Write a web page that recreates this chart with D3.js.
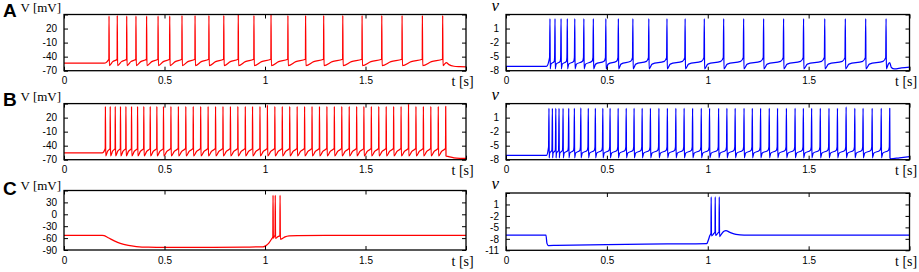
<!DOCTYPE html>
<html>
<head>
<meta charset="utf-8">
<script src="https://cdn.jsdelivr.net/npm/d3@7"></script>
<style>
  body { margin: 0; background: #fff; }
  svg { display: block; }
  .axis text { font-family: "Liberation Sans", Arial, sans-serif; font-size: 10px; fill: #000; }
  .axis line { stroke: #000; stroke-width: 1; }
  .serif { font-family: "Liberation Serif", "Times New Roman", serif; fill: #000; }
</style>
</head>
<body>
<svg width="919" height="272"></svg>
<script>
/* ---- data ---- */
const timeTicks = [0, 0.5, 1, 1.5, 2];
const timeTickLabels = ['0', '0.5', '1', '1.5', ''];

const vmTicksAB = [-70, -40, -10, 20, 50];
const vmTicksC = [-90, -60, -30, 0, 30, 60];
const vTicksAB = [-8, -5, -2, 1, 4];
const vTicksC = [-11, -8, -5, -2, 1, 4];

// A, V [mV]
const spikesA_V = [0.224, 0.265, 0.312, 0.358, 0.411, 0.468, 0.526, 0.587, 0.652, 0.721, 0.795, 0.867,
  0.945, 1.030, 1.114, 1.202, 1.292, 1.387, 1.483, 1.581, 1.682, 1.783, 1.884];
const peaksA_V = [47, 48, 47, 47, 47, 47, 47, 48, 48, 48, 48, 51, 48, 52, 48, 48, 48, 48, 48, 48, 48, 48, 48];
const tailA_V = [[1.893, -56], [1.902, -53], [1.915, -57], [1.94, -60.5], [1.97, -61.5], [2, -62]];

// A, v
const spikesA_v = [0.218, 0.243, 0.273, 0.304, 0.341, 0.386, 0.433, 0.495, 0.557, 0.629, 0.708, 0.798,
  0.888, 0.983, 1.079, 1.178, 1.277, 1.376, 1.475, 1.580, 1.682, 1.783, 1.884];
const peaksA_v = [3.1, 3.1, 3.1, 3.1, 3.1, 3.1, 3.1, 3.1, 3.1, 3.1, 3.1, 3.1, 3.1, 3.1, 3.1, 3.1, 3.1, 3.1,
  3.1, 3.1, 3.1, 3.1, 3.1];
const tailA_v = [[1.895, -6.6], [1.902, -6.3], [1.91, -7.3], [1.925, -7.6], [1.96, -7.4], [2, -7.25]];

// B, V [mV]
const spikesB_V = [0.206, 0.230, 0.255, 0.281, 0.308, 0.336, 0.366, 0.397, 0.429, 0.462,
  0.495, 0.532, 0.569, 0.606, 0.643, 0.680, 0.717, 0.754, 0.791, 0.828, 0.865, 0.902, 0.938, 0.975,
  1.012, 1.049, 1.086, 1.123, 1.160, 1.197, 1.234, 1.271, 1.308, 1.345, 1.382, 1.419, 1.456, 1.492,
  1.529, 1.566, 1.603, 1.640, 1.677, 1.714, 1.751, 1.788, 1.825, 1.862, 1.899];
const peaksB_V = [44, 44, 44, 44, 44, 44, 44, 44, 44, 44, 44, 44, 44, 44, 44, 44, 44, 44, 44, 44, 44, 44,
  44, 44, 47, 44, 44, 44, 44, 44, 44, 44, 44, 44, 44, 44, 44, 44, 44, 44, 44, 44, 44, 50, 44, 44, 44, 44, 44];
const tailB_V = [[1.91, -63], [1.94, -66], [1.97, -67], [2, -67.2]];

// B, v
const spikesB_v = [0.213, 0.230, 0.247, 0.263, 0.283, 0.311, 0.339, 0.371, 0.408, 0.443, 0.480, 0.516,
  0.556, 0.596, 0.635, 0.675, 0.716, 0.758, 0.800, 0.842, 0.883, 0.925, 0.968, 1.009, 1.054, 1.095,
  1.136, 1.180, 1.221, 1.262, 1.305, 1.346, 1.390, 1.433, 1.474, 1.515, 1.558, 1.601, 1.643, 1.686,
  1.729, 1.770, 1.815, 1.860, 1.902];
const peaksB_v = [3.0, 3.0, 3.0, 3.0, 3.0, 3.0, 3.0, 3.1, 3.0, 3.0, 3.0, 3.0, 3.0, 3.0, 3.0, 3.0, 3.0,
  3.0, 3.0, 3.0, 3.0, 3.0, 3.0, 3.0, 3.0, 3.0, 3.0, 3.0, 3.0, 3.0, 3.0, 3.0, 3.0, 3.0, 3.0, 3.0, 3.0,
  3.0, 3.0, 3.3, 3.0, 3.0, 3.0, 3.0, 3.0];
const tailB_v = [[1.906, -7.8], [1.95, -7.6], [2, -7.35]];

// C, V [mV] (hyperpolarising step, rebound burst)
const traceC_V = [[0, -53.2], [0.19, -53.2], [0.2, -54], [0.22, -59], [0.25, -67], [0.28, -73.5],
  [0.32, -78.5], [0.36, -81.2], [0.42, -83], [0.5, -83.5], [0.7, -83.2], [0.9, -82.6], [0.99, -82],
  [1.005, -79], [1.02, -72], [1.032, -63], [1.039, -57], [1.040, 48], [1.0415, -60], [1.046, -56],
  [1.050, -53], [1.051, 48], [1.0525, -61], [1.062, -57], [1.074, -54], [1.075, 48], [1.0765, -63],
  [1.085, -61.5], [1.1, -57], [1.12, -54.5], [1.16, -53.5], [1.3, -53.2], [2, -53.2]];

// C, v
const traceC_v = [[0, -7.05], [0.198, -7.05], [0.203, -9.2], [0.21, -9.75], [0.25, -9.7], [0.5, -9.5],
  [0.8, -9.35], [0.995, -9.25], [1.003, -8.3], [1.01, -7.2], [1.016, -6.5], [1.017, 3], [1.0185, -7.2],
  [1.03, -6.6], [1.036, -6.2], [1.037, 3], [1.0385, -7.1], [1.05, -6.5], [1.056, -6.2], [1.057, 3],
  [1.0585, -7.4], [1.066, -6.9], [1.08, -6.0], [1.09, -5.85], [1.11, -6.3], [1.14, -6.85], [1.18, -7.05],
  [2, -7.05]];

/* ---- trace builders ---- */
// V model: reset, concave climb to threshold, spike
function buildV(spikes, peaks, rest, onset, reset, pre, tail) {
  const pts = [[0, rest], [onset, rest]];
  spikes.forEach((t, i) => {
    pts.push([t - 0.0008, pre], [t, peaks[i]], [t + 0.0015, reset]);
    const next = spikes[i + 1];
    if (next !== undefined) {
      const isi = next - t;
      pts.push([t + 0.45 * isi, reset + 0.62 * (pre - reset)]);
    }
  });
  return pts.concat(tail);
}

// v model: reset, quick knee, plateau, sharp upswing
function buildv(spikes, peaks, rest, onset, reset, knee, late, pre, tail) {
  const pts = [[0, rest], [onset, rest]];
  spikes.forEach((t, i) => {
    pts.push([t - 0.002, pre], [t, peaks[i]], [t + 0.0012, reset]);
    const next = spikes[i + 1];
    if (next !== undefined) {
      const isi = next - t;
      pts.push([t + 0.18 * isi, knee], [next - 0.15 * isi, late]);
    }
  });
  return pts.concat(tail);
}

const svg = d3.select('svg');

const colV = { x0: 64, x1: 466 };
const colv = { x0: 506, x1: 909.5 };

const panels = [
  { col: colV, top: 14.5, bottom: 70.7, domain: [-70, 50], ticks: vmTicksAB, color: '#ff0000',
    data: buildV(spikesA_V, peaksA_V, -54, 0.2, -59, -45.5, tailA_V) },
  { col: colv, top: 14.5, bottom: 70.7, domain: [-8, 4], ticks: vTicksAB, color: '#0000ff',
    data: buildv(spikesA_v, peaksA_v, -7.1, 0.2, -7.6, -6.6, -6.0, -5.2, tailA_v) },
  { col: colV, top: 103.6, bottom: 159.7, domain: [-70, 50], ticks: vmTicksAB, color: '#ff0000',
    data: buildV(spikesB_V, peaksB_V, -55.6, 0.19, -62, -46, tailB_V) },
  { col: colv, top: 103.6, bottom: 159.7, domain: [-8, 4], ticks: vTicksAB, color: '#0000ff',
    data: buildv(spikesB_v, peaksB_v, -7.1, 0.2, -7.6, -6.6, -6.0, -5.3, tailB_v) },
  { col: colV, top: 190.5, bottom: 250, domain: [-90, 60], ticks: vmTicksC, color: '#ff0000',
    data: traceC_V },
  { col: colv, top: 193, bottom: 250.3, domain: [-11, 4], ticks: vTicksC, color: '#0000ff',
    data: traceC_v }
];

panels.forEach((p, k) => {
  const x = d3.scaleLinear().domain([0, 2]).range([p.col.x0, p.col.x1]);
  const y = d3.scaleLinear().domain(p.domain).range([p.bottom, p.top]);
  const g = svg.append('g');

  const clipId = 'clip' + k;
  svg.append('clipPath').attr('id', clipId)
    .append('rect')
    .attr('x', p.col.x0).attr('y', p.top)
    .attr('width', p.col.x1 - p.col.x0).attr('height', p.bottom - p.top);

  const line = d3.line()
    .x(d => x(d[0]))
    .y(d => y(d[1]))
    .curve(d3.curveMonotoneX);

  g.append('path')
    .datum(p.data)
    .attr('clip-path', `url(#${clipId})`)
    .attr('fill', 'none')
    .attr('stroke', p.color)
    .attr('stroke-width', 1.25)
    .attr('stroke-linejoin', 'round')
    .attr('d', line);

  // inward ticks on all four sides
  const yLabels = p.ticks.map((d, i) => i === p.ticks.length - 1 ? '' : String(d));
  g.append('g').attr('class', 'axis')
    .attr('transform', `translate(0,${p.bottom})`)
    .call(d3.axisBottom(x).tickValues(timeTicks)
      .tickFormat((d, i) => timeTickLabels[i]).tickSizeInner(-4).tickSizeOuter(0).tickPadding(6.5))
    .call(a => a.select('.domain').remove());
  g.append('g').attr('class', 'axis')
    .attr('transform', `translate(0,${p.top})`)
    .call(d3.axisTop(x).tickValues(timeTicks).tickFormat('').tickSizeInner(-4).tickSizeOuter(0))
    .call(a => a.select('.domain').remove());
  g.append('g').attr('class', 'axis')
    .attr('transform', `translate(${p.col.x0},0)`)
    .call(d3.axisLeft(y).tickValues(p.ticks)
      .tickFormat((d, i) => yLabels[i]).tickSizeInner(-4).tickSizeOuter(0).tickPadding(7))
    .call(a => a.select('.domain').remove());
  g.append('g').attr('class', 'axis')
    .attr('transform', `translate(${p.col.x1},0)`)
    .call(d3.axisRight(y).tickValues(p.ticks).tickFormat('').tickSizeInner(-4).tickSizeOuter(0))
    .call(a => a.select('.domain').remove());

  g.append('rect')
    .attr('x', p.col.x0).attr('y', p.top)
    .attr('width', p.col.x1 - p.col.x0).attr('height', p.bottom - p.top)
    .attr('fill', 'none').attr('stroke', '#000').attr('stroke-width', 1.3);

  // axis titles
  const tX = p.col === colV ? 451.5 : 895;
  g.append('text').attr('class', 'serif')
    .attr('x', tX).attr('y', p.bottom + 15.5)
    .style('font-size', '14px')
    .text('t [s]');
});

/* ---- row letters and y titles ---- */
const rowLetters = ['A', 'B', 'C'];
const letterBase = [16.7, 105.7, 194.7];
const vTitleBase = [11.7, 100.7, 189.7];
const vItalicBase = [11.3, 100.3, 189.3];

rowLetters.forEach((L, i) => {
  svg.append('text')
    .attr('x', 3).attr('y', letterBase[i])
    .style('font-family', '"Liberation Sans", Arial, sans-serif')
    .style('font-weight', 'bold').style('font-size', '19px')
    .text(L);
  svg.append('text').attr('class', 'serif')
    .attr('x', 20.5).attr('y', vTitleBase[i])
    .style('font-size', '13px')
    .text('V [mV]');
  svg.append('text').attr('class', 'serif')
    .attr('x', 491.5).attr('y', vItalicBase[i])
    .style('font-size', '17px').style('font-style', 'italic')
    .text('v');
});
</script>
</body>
</html>
